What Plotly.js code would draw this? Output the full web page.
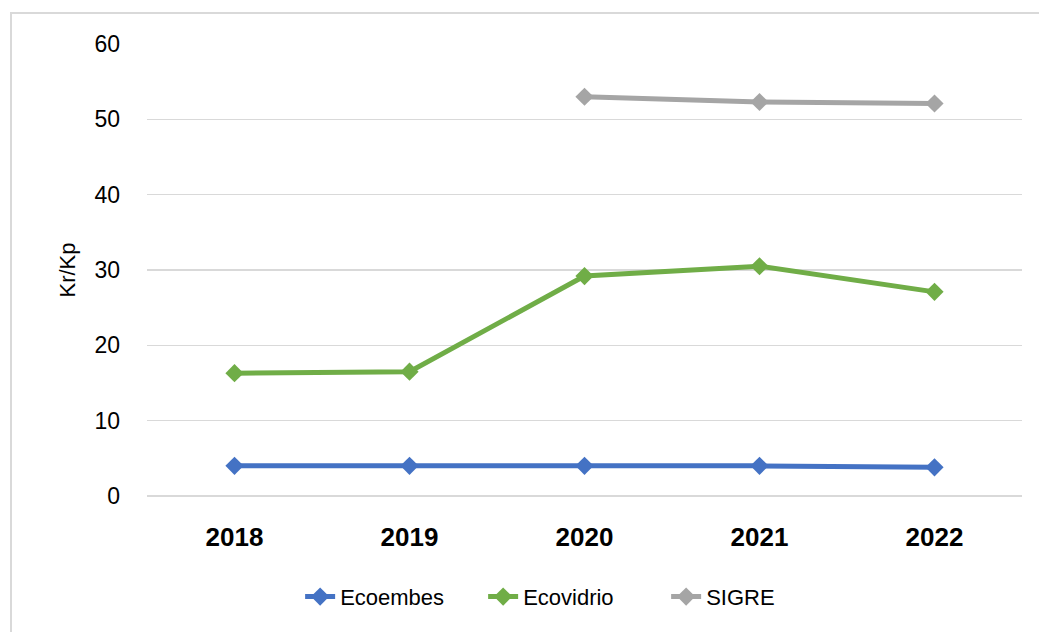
<!DOCTYPE html>
<html>
<head>
<meta charset="utf-8">
<script src="https://cdn.plot.ly/plotly-3.0.1.min.js"></script>
<style>
html,body{margin:0;padding:0;background:#fff;overflow:hidden;}
#chart{position:absolute;left:0;top:0;width:1039px;height:632px;}
#frame{position:absolute;left:10px;top:12px;width:1060px;height:660px;border-left:2px solid #d9d9d9;border-top:2px solid #d9d9d9;pointer-events:none;}
</style>
</head>
<body>
<div id="chart"></div>
<div id="frame"></div>
<script>
const years = ["2018", "2019", "2020", "2021", "2022"];
const ecoembes = [4.0, 4.0, 4.0, 4.0, 3.8];
const ecovidrio = [16.3, 16.5, 29.2, 30.5, 27.1];
const sigre = [null, null, 53.0, 52.3, 52.1];

function tr(name, y, color) {
  return {
    type: "scatter", mode: "lines+markers", name: name,
    x: years, y: y,
    line: {color: color, width: 5},
    marker: {symbol: "diamond", size: 14, color: color},
    connectgaps: false
  };
}

const data = [
  tr("Ecoembes", ecoembes, "#4472C4"),
  tr("Ecovidrio", ecovidrio, "#70AD47"),
  tr("SIGRE", sigre, "#A5A5A5")
];

const layout = {
  width: 1039, height: 632,
  margin: {l: 147, r: 17, t: 44, b: 136},
  paper_bgcolor: "#fff", plot_bgcolor: "#fff",
  font: {family: "Liberation Sans, Arial, sans-serif", color: "#000"},
  showlegend: true,
  legend: {orientation: "h", x: 0.175, xanchor: "left", y: -0.223, yanchor: "middle",
           entrywidth: 138, entrywidthmode: "pixels",
           font: {size: 22, color: "#000"}, traceorder: "normal"},
  xaxis: {type: "category", range: [-0.5, 4.5], showgrid: false, showline: false, zeroline: false,
          ticks: "", tickfont: {size: 26, color: "#000", weight: "bold"},
          ticklabelstandoff: 23, automargin: false},
  yaxis: {range: [0, 60], dtick: 10, showgrid: true, gridcolor: "#d9d9d9", gridwidth: 1.5,
          zeroline: true, zerolinecolor: "#d9d9d9", zerolinewidth: 1.5,
          showline: false, ticks: "", tickfont: {size: 23, color: "#000"},
          ticklabelstandoff: 26, automargin: false,
          title: {text: "Kr/Kp", font: {size: 22, color: "#000"}, standoff: 12}}
};

Plotly.newPlot("chart", data, layout, {displayModeBar: false, staticPlot: true});
</script>
</body>
</html>
